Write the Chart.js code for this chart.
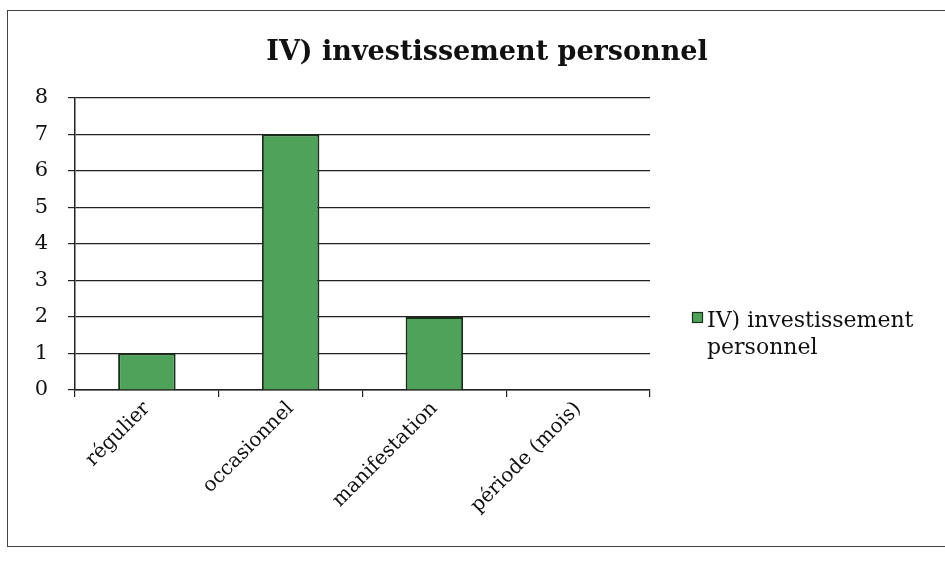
<!DOCTYPE html>
<html>
<head>
<meta charset="utf-8">
<script src="https://cdn.jsdelivr.net/npm/chart.js@4/dist/chart.umd.min.js"></script>
<style>
  html, body { margin: 0; padding: 0; background: #fff; }
  #wrap { position: relative; width: 945px; height: 583px; }
  #frame { position: absolute; left: 7px; top: 10px; width: 945px; height: 537px; border: 1.5px solid #444; box-sizing: border-box; }
  canvas { position: absolute; left: 0; top: 0; }
</style>
</head>
<body>
<div id="wrap">
  <div id="frame"></div>
  <canvas id="chart" width="945" height="583"></canvas>
</div>
<script>
// chart data
const chartTitle = 'IV) investissement personnel';
const categories = ['régulier', 'occasionnel', 'manifestation', 'période (mois)'];
const seriesName = ['IV) investissement', 'personnel'];
const seriesValues = [1, 7, 2, 0];
const yTicks = [0, 1, 2, 3, 4, 5, 6, 7, 8];

const FONT = '"DejaVu Serif", "Liberation Serif", serif';
const GREEN = '#4fa25a';
const EDGE = '#17301a';
const INK = '#111';

// title and the two-line legend are drawn by hand so they can sit where the original puts them
const decorations = {
  id: 'decorations',
  afterDraw(chart) {
    const ctx = chart.ctx;
    ctx.save();
    ctx.fillStyle = INK;
    ctx.font = 'bold 27px ' + FONT;
    ctx.textAlign = 'center';
    ctx.textBaseline = 'middle';
    ctx.fillText(chartTitle, 487, 53);

    ctx.fillStyle = GREEN;
    ctx.strokeStyle = EDGE;
    ctx.lineWidth = 1.2;
    ctx.fillRect(692.5, 312.5, 10, 10);
    ctx.strokeRect(692.5, 312.5, 10, 10);

    ctx.fillStyle = INK;
    ctx.font = '22px ' + FONT;
    ctx.textAlign = 'left';
    ctx.textBaseline = 'alphabetic';
    seriesName.forEach((line, i) => ctx.fillText(line, 707, 327 + i * 27));
    ctx.restore();
  }
};

new Chart(document.getElementById('chart'), {
  type: 'bar',
  data: {
    labels: categories,
    datasets: [{
      label: seriesName.join(' '),
      data: seriesValues,
      backgroundColor: GREEN,
      borderColor: EDGE,
      borderWidth: 2,
      categoryPercentage: 0.8,
      barPercentage: 0.5
    }]
  },
  options: {
    responsive: false,
    animation: false,
    layout: { padding: { left: 25, right: 295, top: 98, bottom: 0 } },
    plugins: {
      legend: { display: false },
      title: { display: false },
      tooltip: { enabled: false }
    },
    scales: {
      x: {
        grid: { display: true, drawOnChartArea: false, offset: true, tickLength: 7, color: '#222', lineWidth: 1.2 },
        border: { color: '#222', width: 1.5 },
        ticks: {
          color: INK,
          font: { family: FONT, size: 20 },
          minRotation: 45,
          maxRotation: 45,
          padding: 0
        },
        afterFit(scale) { scale.height = 193; }
      },
      y: {
        min: 0,
        max: 8,
        afterBuildTicks(scale) { scale.ticks = yTicks.map(v => ({ value: v })); },
        grid: { color: '#222', lineWidth: 1.2, tickLength: 7 },
        border: { color: '#222', width: 1.5 },
        ticks: {
          color: INK,
          font: { family: FONT, size: 21 },
          padding: 20
        },
        afterFit(scale) { scale.width = 50; }
      }
    }
  },
  plugins: [decorations]
});
</script>
</body>
</html>
